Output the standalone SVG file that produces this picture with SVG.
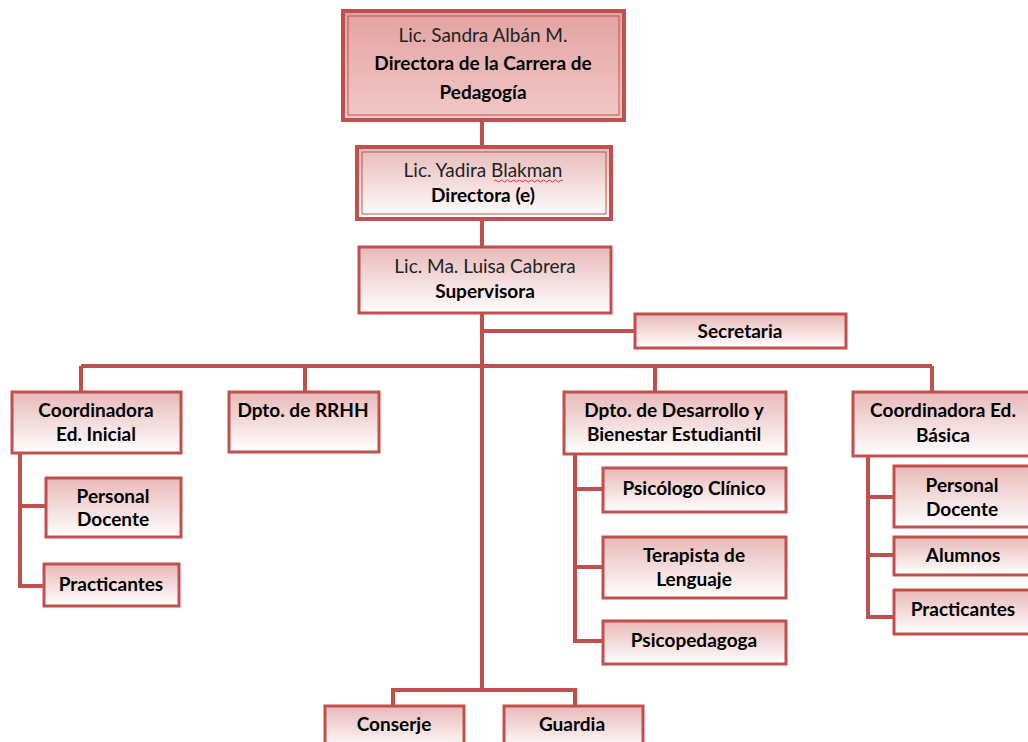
<svg xmlns="http://www.w3.org/2000/svg" width="1028" height="742" viewBox="0 0 1028 742">
<defs>
<linearGradient id="gTop" x1="0" y1="0" x2="0" y2="1"><stop offset="0" stop-color="#e3a2a1"/><stop offset="1" stop-color="#f1c9c8"/></linearGradient>
<linearGradient id="g" x1="0" y1="0" x2="0" y2="1"><stop offset="0" stop-color="#e8b9b8"/><stop offset="1" stop-color="#ffffff"/></linearGradient>
<style>
.box{fill:url(#g);stroke:#c0504d;stroke-width:3}
.top{fill:url(#gTop);stroke:#c0504d;stroke-width:4}
.inner{fill:none;stroke:#c0504d;stroke-width:1}
.ln{fill:none;stroke:#c0504d;stroke-width:4}
text{font-family:Lato,"Liberation Sans",sans-serif;font-size:19px;fill:#000;text-anchor:middle}
.b{font-weight:bold}
.r{fill:#222}
</style>
</defs>
<rect width="1028" height="742" fill="#fff"/>
<g id="connectors">
<path class="ln" d="M482 120V690"/>
<path class="ln" d="M482 331H634"/>
<path class="ln" d="M81 366H932"/>
<path class="ln" d="M81 366V391M305 366V391M655 366V391M932 366V391"/>
<path class="ln" d="M20 453V586H43M20 506H45"/>
<path class="ln" d="M575 454V641H602M575 489H602M575 567H602"/>
<path class="ln" d="M868 456V617H893M868 497H893M868 555H893"/>
<path class="ln" d="M393 705V690H575V705"/>
</g>
<g id="n1">
<rect class="top" x="343" y="11" width="281" height="109"/>
<rect class="inner" x="348" y="16" width="271" height="99"/>
<text class="r" x="483" y="42">Lic. Sandra Albán M.</text>
<text class="b" x="483" y="70">Directora de la Carrera de</text>
<text class="b" x="483" y="99">Pedagogía</text>
</g>
<g id="n2">
<rect class="top" x="357" y="147" width="254" height="72" style="fill:url(#g)"/>
<rect class="inner" x="362" y="152" width="244" height="62"/>
<text class="r" x="483" y="177">Lic. Yadira Blakman</text>
<path d="M494 181q1.5-2 3 0t3 0t3 0t3 0t3 0t3 0t3 0t3 0t3 0t3 0t3 0t3 0t3 0t3 0t3 0t3 0t3 0t3 0t3 0t3 0t3 0t3 0t3 0" fill="none" stroke="#e03030" stroke-width="1"/>
<text class="b" x="483" y="202">Directora (e)</text>
</g>
<g id="n3">
<rect class="box" x="359" y="247" width="252" height="66"/>
<text class="r" x="485" y="273">Lic. Ma. Luisa Cabrera</text>
<text class="b" x="485" y="298">Supervisora</text>
</g>
<g id="n4">
<rect class="box" x="635" y="314" width="211" height="34"/>
<text class="b" x="740" y="338">Secretaria</text>
</g>
<g id="n5">
<rect class="box" x="12" y="392" width="169" height="61"/>
<text class="b" x="96" y="417">Coordinadora</text>
<text class="b" x="96" y="441">Ed. Inicial</text>
</g>
<g id="n6">
<rect class="box" x="229" y="392" width="150" height="60"/>
<text class="b" x="303" y="417">Dpto. de RRHH</text>
</g>
<g id="n7">
<rect class="box" x="564" y="392" width="222" height="62"/>
<text class="b" x="674" y="417">Dpto. de Desarrollo y</text>
<text class="b" x="674" y="441">Bienestar Estudiantil</text>
</g>
<g id="n8">
<rect class="box" x="853" y="392" width="180" height="64"/>
<text class="b" x="943" y="417">Coordinadora Ed.</text>
<text class="b" x="943" y="442">Básica</text>
</g>
<g id="n9">
<rect class="box" x="46" y="478" width="135" height="59"/>
<text class="b" x="113" y="503">Personal</text>
<text class="b" x="113" y="526">Docente</text>
</g>
<g id="n10">
<rect class="box" x="44" y="564" width="135" height="42"/>
<text class="b" x="111" y="591">Practicantes</text>
</g>
<g id="n11">
<rect class="box" x="603" y="468" width="183" height="44"/>
<text class="b" x="694" y="495">Psicólogo Clínico</text>
</g>
<g id="n12">
<rect class="box" x="603" y="537" width="183" height="61"/>
<text class="b" x="694" y="562">Terapista de</text>
<text class="b" x="694" y="586">Lenguaje</text>
</g>
<g id="n13">
<rect class="box" x="603" y="621" width="183" height="43"/>
<text class="b" x="694" y="647">Psicopedagoga</text>
</g>
<g id="n14">
<rect class="box" x="894" y="466" width="140" height="61"/>
<text class="b" x="962" y="492">Personal</text>
<text class="b" x="962" y="516">Docente</text>
</g>
<g id="n15">
<rect class="box" x="894" y="537" width="140" height="38"/>
<text class="b" x="963" y="562">Alumnos</text>
</g>
<g id="n16">
<rect class="box" x="894" y="590" width="140" height="44"/>
<text class="b" x="963" y="616">Practicantes</text>
</g>
<g id="n17">
<rect class="box" x="325" y="706" width="139" height="44"/>
<text class="b" x="394" y="731">Conserje</text>
</g>
<g id="n18">
<rect class="box" x="504" y="706" width="139" height="44"/>
<text class="b" x="572" y="731">Guardia</text>
</g>
</svg>
